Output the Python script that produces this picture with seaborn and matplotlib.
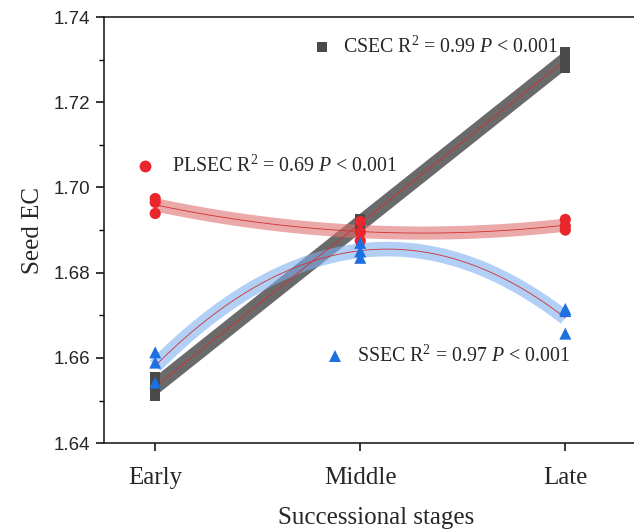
import numpy as np
import pandas as pd
import matplotlib
matplotlib.use("Agg")
import matplotlib.pyplot as plt
import seaborn as sns
from matplotlib.ticker import MultipleLocator

# ---- data ----
stages = ["Early", "Middle", "Late"]
stage_idx = [0, 0, 0, 1, 1, 1, 2, 2, 2]
csec = [1.6510, 1.6535, 1.6556, 1.6905, 1.6915, 1.6925, 1.7280, 1.7300, 1.7317]
plsec = [1.6939, 1.6965, 1.6974, 1.6875, 1.6895, 1.6920, 1.6900, 1.6910, 1.6925]
ssec = [1.6542, 1.6589, 1.6613, 1.6835, 1.6850, 1.6870, 1.6657, 1.6710, 1.6715]
labels = {
    "CSEC": r"CSEC R$^2$ = 0.99 $P$ < 0.001",
    "PLSEC": r"PLSEC R$^2$ = 0.69 $P$ < 0.001",
    "SSEC": r"SSEC R$^2$ = 0.97 $P$ < 0.001",
}

df = pd.DataFrame({"stage": stage_idx, "CSEC": csec, "PLSEC": plsec, "SSEC": ssec})

sns.set_theme(style="ticks")
plt.rcParams["font.family"] = ["Liberation Serif", "DejaVu Serif"]
plt.rcParams["mathtext.fontset"] = "custom"
plt.rcParams["mathtext.rm"] = "Liberation Serif"
plt.rcParams["mathtext.it"] = "Liberation Serif:italic"

fig = plt.figure(figsize=(6.34, 5.32), dpi=100)
ax = fig.add_axes([0.164, 0.167, 0.857, 0.801])

series = [
    ("CSEC", 1, "#5a5a5a", 0.9, 11.0, "s", "#4a4a4a", 55),
    ("PLSEC", 2, "#e07070", 0.6, 9.5, "o", "#e8262b", 65),
    ("SSEC", 2, "#80b0f0", 0.6, 10.5, "^", "#1f6fe0", 75),
]

# bands (thick fitted curves)
for name, order, bcol, balpha, lw, mk, mcol, ms in series:
    sns.regplot(data=df, x="stage", y=name, order=order, ci=None, scatter=False,
                color=bcol, ax=ax,
                line_kws=dict(lw=lw, alpha=balpha, solid_capstyle="butt"))
# thin red fitted lines
for name, order, bcol, balpha, lw, mk, mcol, ms in series:
    sns.regplot(data=df, x="stage", y=name, order=order, ci=None, scatter=False,
                color="#d03030", ax=ax, line_kws=dict(lw=0.6))
# points
for name, order, bcol, balpha, lw, mk, mcol, ms in series:
    sns.scatterplot(data=df, x="stage", y=name, marker=mk, color=mcol, s=ms,
                    edgecolor="none", ax=ax, zorder=5)

# annotations with marker keys
ann = [
    ("CSEC", 0.815, 1.733, 0.917, "s", "#4a4a4a", 7.5),
    ("PLSEC", -0.049, 1.7050, 0.083, "o", "#e8262b", 8.5),
    ("SSEC", 0.878, 1.6604, 0.985, "^", "#1f6fe0", 9),
]
for name, mx, my, tx, mk, mcol, msz in ann:
    ax.plot([mx], [my], marker=mk, color=mcol, markersize=msz, ls="none",
            markeredgewidth=0, zorder=6)
    ax.text(tx, my, labels[name], fontsize=14.3, va="center", ha="left",
            family="Liberation Serif")

ax.set_xlim(-0.25, 2.4)
ax.set_ylim(1.64, 1.74)
ax.set_xticks([0, 1, 2])
ax.set_xticklabels(stages, fontsize=18, family="Liberation Serif")
ax.set_yticks([1.64, 1.66, 1.68, 1.70, 1.72, 1.74])
ax.set_yticklabels(["1.64", "1.66", "1.68", "1.70", "1.72", "1.74"],
                   fontsize=13.5, family="Liberation Sans")
ax.yaxis.set_minor_locator(MultipleLocator(0.01))
ax.tick_params(axis="both", which="major", direction="out", length=6, width=1.1,
               color="black", pad=4)
ax.tick_params(axis="y", which="minor", direction="out", length=3.5, width=1.0,
               color="black")
ax.tick_params(axis="x", which="major", pad=11)
for sp in ax.spines.values():
    sp.set_linewidth(1.2)
    sp.set_color("#222222")

ax.set_xlabel("Successional stages", fontsize=18, family="Liberation Serif", labelpad=13)
ax.set_ylabel("Seed EC", fontsize=18, family="Liberation Serif", labelpad=7)

fig.savefig("out.png", dpi=100)
